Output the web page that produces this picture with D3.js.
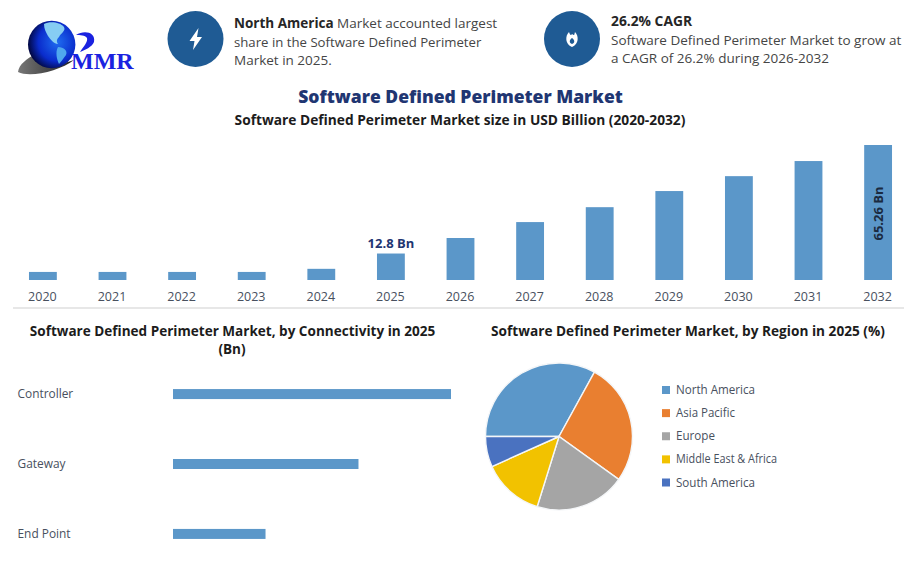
<!DOCTYPE html>
<html><head><meta charset="utf-8">
<script src="https://cdn.jsdelivr.net/npm/d3@7/dist/d3.min.js"></script>
<style>html,body{margin:0;padding:0;background:#fff}svg{display:block}text{font-family:"Open Sans","Noto Sans",sans-serif}</style>
</head><body><svg id="c" width="922" height="584"></svg>
<script>
const years=["2020","2021","2022","2023","2024","2025","2026","2027","2028","2029","2030","2031","2032"];
const sizeValues=[3.9,3.9,3.9,3.9,5.4,12.8,20.3,28,35.2,43,50.2,57.5,65.26];
const connectivity=["Controller","Gateway","End Point"];
const connectivityValues=[6.4,4.27,2.13];
const regions=["North America","Asia Pacific","Europe","Middle East & Africa","South America"];
const regionValues=[33,26.9,19.9,13.5,6.7];
const regionColors=["#5b97c9","#e97f30","#a5a5a5","#f2c200","#4a72c0"];
const svg=d3.select("#c");
const ink="#454545", label="#48505e", navy="#1f3672", black="#1c1c1c";
function txt(x,y,s,o={}){const t=svg.append("text").attr("x",x).attr("y",y).text(s)
 .attr("font-size",o.size||12).attr("font-weight",o.weight||400).attr("fill",o.fill||ink).attr("text-anchor",o.anchor||"start");
 if(o.len) t.attr("textLength",o.len).attr("lengthAdjust","spacingAndGlyphs");
 return t;}
// logo
const defs=svg.append("defs");
const g=defs.append("radialGradient").attr("id","globe").attr("cx","62%").attr("cy","45%").attr("r","62%");
g.append("stop").attr("offset","0").attr("stop-color","#1f6cf0");
g.append("stop").attr("offset","0.65").attr("stop-color","#0a2ccc");
g.append("stop").attr("offset","1").attr("stop-color","#020842");
const sw=defs.append("linearGradient").attr("id","sw").attr("x1","0").attr("x2","1");
sw.append("stop").attr("offset","0").attr("stop-color","#777");
sw.append("stop").attr("offset","1").attr("stop-color","#222");
svg.append("path").attr("d","M18 72 C19 64 27 59 35 54 C33 61 38 65 48 65 C58 65 68 62 74 60 C60 71 30 78 18 72Z").attr("fill","url(#sw)");
svg.append("circle").attr("cx",51.7).attr("cy",44.5).attr("r",23.7).attr("fill","url(#globe)");
svg.append("path").attr("d","M44 24 C50 21 60 22 64 27 C66 31 61 33 59 37 C57 39 56 41 58 44 C54 44 51 40 48 36 C46 32 44 29 44 24Z").attr("fill","#86cdf3");
svg.append("path").attr("d","M58 47 C64 47 68 51 66 55 C63 59 61 62 59 64 C57 60 55 52 58 47Z").attr("fill","#4fa8ee");
svg.append("path").attr("d","M76 35 C84 30 96 32 94 42 C92 47 85 50 80 52 C84 46 88 42 87 38 C85 35 80 35 76 35Z").attr("fill","#1a22e0");
svg.append("text").attr("x",71).attr("y",69).text("MMR").attr("font-size",24).attr("font-weight",700).attr("fill","#1a22e0").style("font-family","'Liberation Serif',serif");
// header badges
[[195.5,39],[572,39]].forEach(([x,y])=>svg.append("circle").attr("cx",x).attr("cy",y).attr("r",28).attr("fill","#1f5b94"));
svg.append("path").attr("d","M198.5 28 L189.5 41 L194.5 41 L193 50 L202 37 L197 37Z").attr("fill","#fff");
svg.append("path").attr("fill-rule","evenodd").attr("d","M569 32 C565 36 565 44 572 47 C579 44 579 36 575 32 C574 35 575 36 572 34 C571 36 570 35 569 32Z M572 38 C569 40 569 43 572 44 C575 43 575 40 572 38Z").attr("fill","#fff");
const t1=txt(234,28,"North America",{size:13.5,weight:700,fill:"#262626"});
t1.append("tspan").text(" Market accounted largest").attr("font-weight",400).attr("fill",ink);
txt(234,47,"share in the Software Defined Perimeter",{size:13.2});
txt(234,65,"Market in 2025.",{size:13.5});
txt(611,26,"26.2% CAGR",{size:13.8,weight:700,fill:"#262626"});
txt(611,45,"Software Defined Perimeter Market to grow at",{size:13.5});
txt(611,63,"a CAGR of 26.2% during 2026-2032",{size:13.5});
// titles
txt(460.5,103,"Software Defined Perimeter Market",{size:17.55,weight:800,fill:navy,anchor:"middle"});
txt(460,125,"Software Defined Perimeter Market size in USD Billion (2020-2032)",{size:13.75,weight:700,fill:black,anchor:"middle"});
// main bars
const x=d3.scaleBand().domain(years).range([8.1,912.9]).paddingInner(0.6).paddingOuter(0.3);
const y=d3.scaleLinear().domain([0,65.26]).range([280,145]);
svg.append("g").selectAll("rect").data(years).join("rect")
 .attr("x",d=>x(d)).attr("width",x.bandwidth()).attr("y",(d,i)=>y(sizeValues[i])).attr("height",(d,i)=>280-y(sizeValues[i])).attr("fill","#5b97c9");
const ax=svg.append("g").attr("transform","translate(-0.5,289)").call(d3.axisBottom(x).tickSize(0).tickPadding(3));
ax.select(".domain").remove();
ax.selectAll("text").attr("font-size",12.5).attr("fill",label).style("font-family","'Open Sans',sans-serif");
svg.append("line").attr("x1",13).attr("x2",904).attr("y1",308).attr("y2",308).attr("stroke","#cfcfcf");
txt(x("2025")+x.bandwidth()/2,248,"12.8 Bn",{size:13,weight:700,fill:navy,anchor:"middle"});
const lx=x("2032")+x.bandwidth()/2+5;
txt(0,0,"65.26 Bn",{size:13,weight:700,fill:"#1a2a40",anchor:"middle"}).attr("transform",`translate(${lx},213.5) rotate(-90)`);
// connectivity
txt(232.5,336,"Software Defined Perimeter Market, by Connectivity in 2025",{size:13.55,weight:700,fill:black,anchor:"middle"});
txt(232,353.5,"(Bn)",{size:13.55,weight:700,fill:black,anchor:"middle"});
const hx=d3.scaleLinear().domain([0,6.4]).range([173,451]);
const hy=d3.scaleBand().domain(connectivity).range([359,569]).paddingInner(0.857).paddingOuter(0.43);
svg.append("g").selectAll("rect").data(connectivity).join("rect")
 .attr("x",173).attr("y",d=>hy(d)).attr("height",hy.bandwidth()).attr("width",(d,i)=>hx(connectivityValues[i])-173).attr("fill","#5b97c9");
connectivity.forEach(c=>txt(17.5,hy(c)+hy.bandwidth()/2+4,c,{size:11.9,fill:label}));
// pie
txt(688,336,"Software Defined Perimeter Market, by Region in 2025 (%)",{size:13.65,weight:700,fill:black,anchor:"middle"});
const pie=d3.pie().sort(null).startAngle(-Math.PI/2).endAngle(1.5*Math.PI)(regionValues);
const arc=d3.arc().innerRadius(0).outerRadius(73.5);
svg.append("g").attr("transform","translate(559,436.5)").selectAll("path").data(pie).join("path")
 .attr("d",arc).attr("fill",(d,i)=>regionColors[i]).attr("stroke","#f4f6f8").attr("stroke-width",1.4);
const ly=d3.scalePoint().domain(regions).range([390,482.5]);
const legendWidths=[79,59,39,101,79];
regions.forEach((r,i)=>{
 svg.append("rect").attr("x",662).attr("y",ly(r)-4).attr("width",8).attr("height",8).attr("fill",regionColors[i]);
 txt(676,ly(r)+4,r,{size:11.7,fill:label,len:legendWidths[i]});
});
</script></body></html>
